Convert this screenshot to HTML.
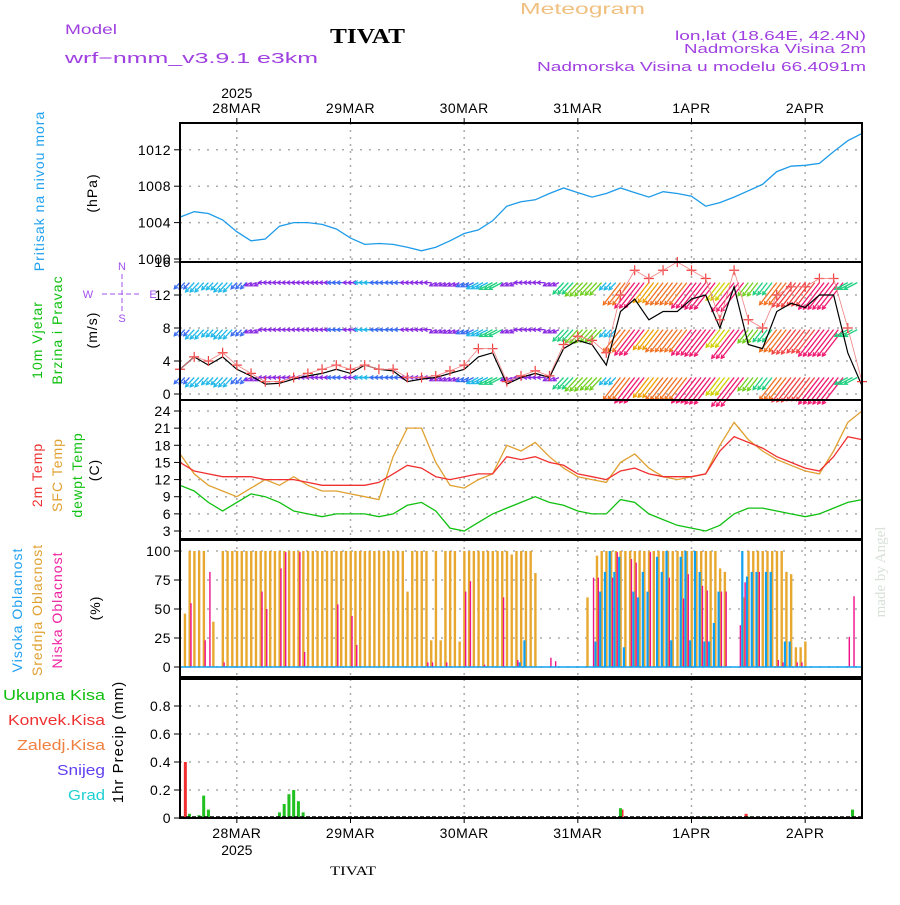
<!DOCTYPE html>
<html><head><meta charset="utf-8"><style>
body{margin:0;background:#fff}
svg text{font-family:"Liberation Sans",sans-serif}
</style></head><body>
<svg id="c" xmlns="http://www.w3.org/2000/svg" width="900" height="900" viewBox="0 0 900 900">
<g font-size="14">
<text x="65" y="34" fill="#a040e0" textLength="52" lengthAdjust="spacingAndGlyphs">Model</text>
<text x="65" y="63" fill="#a040e0" font-size="15" textLength="253" lengthAdjust="spacingAndGlyphs">wrf−nmm_v3.9.1  e3km</text>
<text x="520" y="14" fill="#f0c080" font-size="16" textLength="125" lengthAdjust="spacingAndGlyphs">Meteogram</text>
<text x="330" y="43" fill="#000" font-size="21" font-weight="bold" style="font-family:'Liberation Serif',serif" textLength="75" lengthAdjust="spacingAndGlyphs">TIVAT</text>
<text x="675" y="40" fill="#a040e0" font-size="13" textLength="191" lengthAdjust="spacingAndGlyphs">lon,lat (18.64E, 42.4N)</text>
<text x="684" y="53" fill="#a040e0" font-size="13" textLength="182" lengthAdjust="spacingAndGlyphs">Nadmorska Visina 2m</text>
<text x="537" y="71" fill="#a040e0" font-size="13" textLength="329" lengthAdjust="spacingAndGlyphs">Nadmorska Visina u modelu 66.4091m</text>
<text x="330" y="875" font-size="13" style="font-family:'Liberation Serif',serif" textLength="46" lengthAdjust="spacingAndGlyphs">TIVAT</text>
</g>
<g font-size="14" letter-spacing="1">
<text transform="translate(44,191) rotate(-90)" text-anchor="middle" fill="#20a0f0">Pritisak na nivou mora</text>
<text transform="translate(97,193) rotate(-90)" text-anchor="middle">(hPa)</text>
<text transform="translate(42,340) rotate(-90)" text-anchor="middle" fill="#10c010">10m Vjetar</text>
<text transform="translate(62,330) rotate(-90)" text-anchor="middle" fill="#10c010">Brzina i Pravac</text>
<text transform="translate(97,330) rotate(-90)" text-anchor="middle">(m/s)</text>
<text transform="translate(42,475) rotate(-90)" text-anchor="middle" fill="#f03030">2m Temp</text>
<text transform="translate(62,475) rotate(-90)" text-anchor="middle" fill="#e0a030">SFC Temp</text>
<text transform="translate(82,475) rotate(-90)" text-anchor="middle" fill="#10c010">dewpt Temp</text>
<text transform="translate(99,470) rotate(-90)" text-anchor="middle">(C)</text>
<text transform="translate(22,610) rotate(-90)" text-anchor="middle" fill="#20a0f0">Visoka Oblacnost</text>
<text transform="translate(42,610) rotate(-90)" text-anchor="middle" fill="#e0a030">Srednja Oblacnost</text>
<text transform="translate(62,610) rotate(-90)" text-anchor="middle" fill="#f020a0">Niska Oblacnost</text>
<text transform="translate(100,608) rotate(-90)" text-anchor="middle">(%)</text>
<text transform="translate(123,742) rotate(-90)" text-anchor="middle" font-size="15">1hr Precip (mm)</text>
</g>
<g font-size="15">
<text x="3" y="700" textLength="102" lengthAdjust="spacingAndGlyphs" fill="#10c010">Ukupna Kisa</text>
<text x="8" y="725" textLength="97" lengthAdjust="spacingAndGlyphs" fill="#f03030">Konvek.Kisa</text>
<text x="17" y="750" textLength="88" lengthAdjust="spacingAndGlyphs" fill="#f08040">Zaledj.Kisa</text>
<text x="57" y="775" textLength="48" lengthAdjust="spacingAndGlyphs" fill="#6040f0">Snijeg</text>
<text x="68" y="800" textLength="37" lengthAdjust="spacingAndGlyphs" fill="#20d0d0">Grad</text>
<text transform="translate(885,572) rotate(-90)" text-anchor="middle" fill="#d8e0d8" style="font-family:'Liberation Serif',serif">made by Angel</text>
</g>
<g fill="#a050f0" font-size="11">
<text x="122" y="270" text-anchor="middle">N</text><text x="122" y="322" text-anchor="middle">S</text>
<text x="88" y="298" text-anchor="middle">W</text><text x="153" y="298" text-anchor="middle">E</text>
<line x1="102" y1="294" x2="142" y2="294" stroke="#a050f0" stroke-dasharray="5,3"/>
<line x1="122" y1="274" x2="122" y2="312" stroke="#a050f0" stroke-dasharray="5,3"/>
</g>
<g id="plot"></g>
</svg>
<script>
const hours3=[0,3,6,9,12,15,18,21,24,27,30,33,36,39,42,45,48,51,54,57,60,63,66,69,72,75,78,81,84,87,90,93,96,99,102,105,108,111,114,117,120,123,126,129,132,135,138,141,144];
const dayLabels=["28MAR","29MAR","30MAR","31MAR","1APR","2APR"];
const dayHours=[12,36,60,84,108,132];
const pressure=[1004.6,1005.2,1005.0,1004.3,1003.0,1002.0,1002.2,1003.6,1004.0,1004.0,1003.8,1003.3,1002.3,1001.6,1001.7,1001.6,1001.3,1000.9,1001.3,1002.0,1002.8,1003.2,1004.2,1005.8,1006.3,1006.5,1007.2,1007.8,1007.3,1006.8,1007.2,1007.8,1007.3,1006.8,1007.4,1007.2,1006.9,1005.8,1006.2,1006.8,1007.5,1008.2,1009.6,1010.2,1010.3,1010.5,1011.8,1013.0,1013.8];
const pTicks=[1000,1004,1008,1012];
const windSpeed=[3,4.5,3.5,4.5,3,2.2,1.2,1.3,1.8,2.2,2.5,3,2.5,3.5,3,2.8,1.5,1.8,2,2.5,3,4.5,5,1.2,2,2.5,2,5.5,6.5,6,3.5,10,11.5,9,10,10,11.5,12,8,13,6,5.5,10,11,10.5,12,12,5,1];
const windGust=[3,4.5,4,5,3.5,2.5,1.5,1.5,2,2.5,3,3.5,3,3.5,3,3,2,2,2.2,2.8,3.5,5.5,5.5,1.5,2.2,2.8,2.2,6,7,6.5,5,12,15,14,15,16,15,14,9,15,9,8,12,13,13,14,14,8,1.5];
const windDir=[40,40,40,40,40,60,90,90,90,90,90,90,90,90,90,90,90,90,60,60,60,60,60,60,90,90,60,40,40,40,40,35,35,35,35,35,35,35,35,35,35,35,35,35,35,35,35,60,90];
const wTicks=[0,4,8,12,16];
const t2m=[15,13.5,13,12.5,12.5,12.5,12,12,12,11.5,11,11,11,11,11.5,13,14.5,14,12.5,12,12.5,13,13,16,15.5,16,15,14.5,13,12.5,12,13.5,14,13,12.5,12.5,12.5,13,17,19.5,18.5,17.5,16,15,14,13.5,16,19.5,19];
const tsfc=[16.5,13,11,10,9,10.5,12,11,12.5,11,10,10,9.5,9,8.5,16,21,21,15,11,10.5,12,13,18,17,18.5,16,14,12.5,12,11.5,15,16.5,14,12.5,12,12.5,13,18,22,19,17,15.5,14.5,13.5,13,17,22,24];
const tdew=[11,10,8,6.5,8,9.5,9,8,6.5,6,5.5,6,6,6,5.5,6,7.5,8,6.5,3.5,3,4.5,6,7,8,9,8,7.5,6.5,6,6,8.5,8,6,5,4,3.5,3,4,6,7,7,6.5,6,5.5,6,7,8,8.5];
const tTicks=[3,6,9,12,15,18,21,24];
const midHours=[1,2,3,4,5,7,9,10,11,12,13,14,15,16,17,18,19,20,21,22,23,24,25,26,27,28,29,30,31,32,33,34,35,36,37,38,39,40,41,42,43,44,45,46,47,48,49,50,51,52,53,54,55,56,57,58,59,60,61,62,63,64,65,66,67,68,69,70,71,72,73,74,75,86,88,89,90,91,92,93,94,95,96,97,98,99,100,101,102,103,104,105,106,107,108,109,110,111,112,113,114,115,119,120,121,122,123,124,125,126,127,128,129,130,131,132];
const midVals=[46,100,100,100,100,39,100,100,100,100,100,100,100,100,100,100,100,100,100,100,100,100,100,100,100,100,100,100,100,100,100,100,100,100,100,100,100,100,100,100,100,100,100,100,100,65,100,100,100,100,23,100,23,100,100,100,22,100,100,100,100,100,100,100,100,100,100,97,100,100,100,100,81,60,96,100,100,100,100,100,100,100,100,100,100,100,100,100,100,100,100,100,100,100,100,100,100,100,100,100,85,82,60,100,100,100,100,100,100,100,100,82,80,17,17,22];
const lowHours=[2,5,6,9,17,18,21,22,25,26,33,36,37,52,53,56,60,61,64,68,71,78,79,87,88,91,92,95,96,99,103,106,107,110,111,114,115,118,119,122,126,127,130,131,141,142];
const lowVals=[55,23,82,4,65,50,85,99,99,13,54,44,19,4,4,4,65,74,2,60,6,8,5,77,77,77,99,93,90,99,77,59,80,70,66,65,65,36,73,82,6,4,4,4,26,61];
const highHours=[72,73,88,89,90,91,92,93,94,96,97,98,99,101,102,103,104,106,107,108,109,110,111,112,113,114,119,120,121,122,124,125,128,129];
const highVals=[4,23,22,65,82,100,82,95,17,65,60,82,65,95,82,100,23,95,100,23,100,82,22,22,38,65,100,78,82,82,82,82,22,22];
const cTicks=[0,25,50,75,100];
const rainHours=[2,4,5,6,21,22,23,24,25,26,93,111,112,120,142];
const rainVals=[0.03,0.02,0.16,0.06,0.04,0.1,0.17,0.2,0.12,0.04,0.07,0.01,0.01,0.01,0.06];
const convHours=[0.6,92.8,119];
const convVals=[0.4,0.06,0.03];
const prTicks=[0,0.2,0.4,0.6,0.8];

const NS="http://www.w3.org/2000/svg";
const plot=document.getElementById('plot');
function el(tag,attrs,parent){const e=document.createElementNS(NS,tag);for(const k in attrs)e.setAttribute(k,attrs[k]);(parent||plot).appendChild(e);return e;}
const X0=180,X1=862;
const xs=h=>X0+h*(X1-X0)/144;
const yP=v=>259-(v-1000)*9.1;
const yW=v=>394-v*8.25;
const yT=v=>531-(v-3)*5.714;
const yC=v=>667-v*1.16;
const yR=v=>818-v*140;
const panels=[[123,262],[262,400],[400,539],[540,677],[679,818]];
function grid(top,bot,ticks,yf,fmt,name){
  const g=el('g',{});
  
  
  dayHours.forEach(h=>{el('line',{x1:xs(h),x2:xs(h),y1:top,y2:bot,stroke:'#aaa','stroke-dasharray':'2,5','stroke-width':1.5},g);});
  ticks.forEach(t=>{const y=yf(t);
    el('line',{x1:X0,x2:X1,y1:y,y2:y,stroke:'#aaa','stroke-dasharray':'2,7','stroke-width':1.5},g);
    el('line',{x1:X0-6,x2:X0,y1:y,y2:y,stroke:'#000'},g);
    const tx=el('text',{x:X0-9,y:y+5,'text-anchor':'end','font-size':14,'letter-spacing':'0.5'},g);tx.textContent=fmt(t);});
}
grid(123,262,pTicks,yP,t=>t,'pressure');
grid(262,400,wTicks,yW,t=>t,'wind');
grid(400,539,tTicks,yT,t=>t,'temp');
grid(540,677,cTicks,yC,t=>t,'cloud');
grid(679,818,prTicks,yR,t=>t===0?'0':t.toFixed(1),'precip');
dayLabels.forEach((d,i)=>{const x=xs(dayHours[i]);
  let t=el('text',{x:x,y:113,'text-anchor':'middle','font-size':14,'letter-spacing':'0.5'});t.textContent=d;
  
  t=el('text',{x:x,y:838,'text-anchor':'middle','font-size':14,'letter-spacing':'0.5'});t.textContent=d;
  
  el('line',{x1:x,x2:x,y1:118,y2:123,stroke:'#000'});el('line',{x1:x,x2:x,y1:818,y2:823,stroke:'#000'});
});
let yr=el('text',{x:xs(12),y:98,'text-anchor':'middle','font-size':14});yr.textContent='2025';

yr=el('text',{x:xs(12),y:855,'text-anchor':'middle','font-size':14});yr.textContent='2025';

function line(vals,yf,color,name,w){const p=vals.map((v,i)=>xs(hours3[i]).toFixed(1)+','+yf(v).toFixed(1)).join(' ');
  const e=el('polyline',{points:p,fill:'none',stroke:color,'stroke-width':w||1.3});
  return e;}
line(pressure,yP,'#1e9be8','pressure-line');
function spColor(s){
  if(s<2.6)return '#8a2be2';
  if(s<3.2)return '#3a6cf0';
  if(s<4.8)return '#20b8e8';
  if(s<6)return '#20d080';
  if(s<7)return '#70d020';
  if(s<8.5)return '#d0d000';
  if(s<9.5)return '#f0a000';
  if(s<10.5)return '#f07020';
  if(s<11.5)return '#f04040';
  return '#f01870';}
const arrows=el('g',{});

for(let h=0;h<144;h++){const k=Math.floor(h/3);const s=windSpeed[k],d=windDir[k]*Math.PI/180;
  const L=Math.max(7,s*3);const dx=-Math.sin(d)*L,dy=Math.cos(d)*L;const col=spColor(s);
  [2,7.8,13.5].forEach(b=>{const x=xs(h),y=yW(b);
    const x2=x+dx,y2=y+dy*0.9;
    el('line',{x1:x,y1:y,x2:x2,y2:y2,stroke:col,'stroke-width':1.3},arrows);
    const a=Math.atan2(y2-y,x2-x);
    el('polyline',{points:`${x2-4*Math.cos(a-0.5)},${y2-4*Math.sin(a-0.5)} ${x2},${y2} ${x2-4*Math.cos(a+0.5)},${y2-4*Math.sin(a+0.5)}`,fill:'none',stroke:col,'stroke-width':1.2},arrows);
  });}
line(windSpeed,yW,'#000','wind-speed-line',1.2);
const gg=el('g',{});
windGust.forEach((v,i)=>{const x=xs(hours3[i]),y=yW(v);
  el('path',{d:`M${x-5},${y}H${x+5}M${x},${y-5}V${y+5}`,stroke:'#f04040','stroke-width':1.2},gg);});
line(windGust,yW,'#f08080','gust-line',0.8);
line(tdew,yT,'#10c010','dewpoint-line');
line(tsfc,yT,'#e0a030','sfc-temp-line');
line(t2m,yT,'#f03030','t2m-line');
const cg=el('g',{});
midHours.forEach((h,i)=>{const y=yC(midVals[i]);el('rect',{x:xs(h)-1,y:y,width:2.4,height:667-y,fill:'#e8a830'},cg);});
highHours.forEach((h,i)=>{const y=yC(highVals[i]);el('rect',{x:xs(h)-2.4,y:y,width:2.2,height:667-y,fill:'#10a0f0'},cg);});
lowHours.forEach((h,i)=>{const y=yC(lowVals[i]);el('rect',{x:xs(h)+0.8,y:y,width:1.4,height:667-y,fill:'#f0108a'},cg);});
el('line',{x1:X0,x2:X1,y1:667,y2:667,stroke:'#10a0f0','stroke-width':1.5},cg);
const pg=el('g',{});
convHours.forEach((h,i)=>{const y=yR(convVals[i]);el('rect',{x:xs(h)+1,y:y,width:3,height:818-y,fill:'#f03030'},pg);});
rainHours.forEach((h,i)=>{const y=yR(rainVals[i]);el('rect',{x:xs(h)-1.5,y:y,width:3,height:818-y,fill:'#20c020'},pg);});
el('line',{x1:X0,x2:X1,y1:817,y2:817,stroke:'#000','stroke-dasharray':'4,2','stroke-width':1.5},pg);
panels.forEach(([t,b],i)=>{const r=el('rect',{x:X0,y:t,width:X1-X0,height:b-t,fill:'none',stroke:'#000','stroke-width':2});
  });
</script>
</body></html>
